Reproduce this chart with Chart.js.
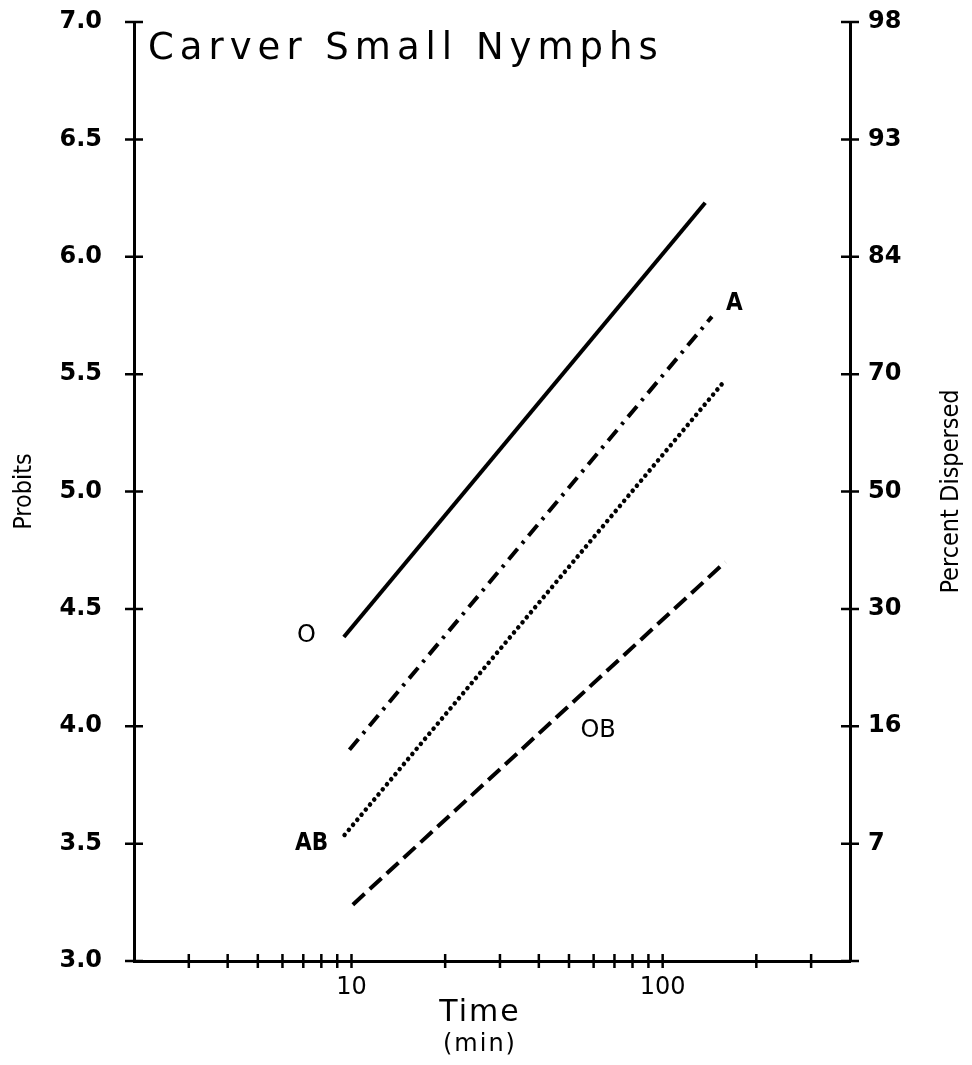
<!DOCTYPE html>
<html lang="en">
  <head>
    <meta charset="UTF-8" />
    <title>Carver Small Nymphs</title>
    <script src="https://cdn.jsdelivr.net/npm/chart.js"></script>
    <style>
      body {
        margin: 0;
        background: #fff;
      }
      canvas {
        display: block;
      }
    </style>
  </head>
  <body>
    <canvas id="probitChart" width="972" height="1065"></canvas>

    <script>
      // fitted probit lines, end points (time in min, probit)
      const timeO = [9.45, 137];
      const probitO = [4.38, 6.23];
      const timeA = [9.85, 144];
      const probitA = [3.9, 5.745];
      const timeAB = [9.5, 159];
      const probitAB = [3.537, 5.475];
      const timeOB = [10.1, 159];
      const probitOB = [3.24, 4.7];

      // treatment labels beside the lines
      const lineNames = ["O", "A", "AB", "OB"];
      const nameTime = [7.17, 170, 7.44, 62];
      const nameProbit = [4.384, 5.8, 3.5, 3.98];

      // axis ticks
      const timeTicks = [3, 4, 5, 6, 7, 8, 9, 10, 20, 30, 40, 50, 60, 70, 80, 90, 100, 200, 300];
      const timeLabels = [10, 100];
      const probitTicks = [3.0, 3.5, 4.0, 4.5, 5.0, 5.5, 6.0, 6.5, 7.0];
      const percentLabels = ["", "7", "16", "30", "50", "70", "84", "93", "98"];

      const ROUND = "'DejaVu Sans', sans-serif";
      const NARROW = "'Liberation Sans Narrow', 'DejaVu Sans Condensed', sans-serif";

      const pts = (xs, ys) => xs.map((x, i) => ({ x: x, y: ys[i] }));

      // keep the plot box where it is, labels may overhang
      const noOverhang = (scale) => {
        scale.paddingTop = 0;
        scale.paddingBottom = 0;
        scale.paddingLeft = 0;
        scale.paddingRight = 0;
      };

      // "+" shaped tick marks that cross each axis line
      const crossTicks = {
        id: "crossTicks",
        afterDraw(chart) {
          const ctx = chart.ctx;
          const { x, y, y2 } = chart.scales;
          ctx.save();
          ctx.strokeStyle = "#000";
          ctx.lineWidth = 2.5;
          ctx.beginPath();
          x.ticks.forEach((t) => {
            const px = x.getPixelForValue(t.value);
            ctx.moveTo(px, x.top - 7);
            ctx.lineTo(px, x.top + 7);
          });
          y.ticks.forEach((t) => {
            const py = y.getPixelForValue(t.value);
            ctx.moveTo(y.right - 9, py);
            ctx.lineTo(y.right + 9, py);
          });
          y2.ticks.forEach((t) => {
            const py = y2.getPixelForValue(t.value);
            ctx.moveTo(y2.left - 9, py);
            ctx.lineTo(y2.left + 9, py);
          });
          ctx.stroke();
          ctx.restore();
        },
      };

      // title, axis titles and line names
      const annotations = {
        id: "annotations",
        afterDraw(chart) {
          const ctx = chart.ctx;
          const area = chart.chartArea;
          const { x, y } = chart.scales;
          ctx.save();
          ctx.fillStyle = "#000";

          ctx.font = "37px " + ROUND;
          ctx.letterSpacing = "6px";
          ctx.textAlign = "left";
          ctx.textBaseline = "alphabetic";
          ctx.fillText("Carver Small Nymphs", area.left + 14, area.top + 37);

          ctx.textAlign = "center";
          ctx.textBaseline = "middle";
          const midX = x.getPixelForValue(30) - 20;
          ctx.letterSpacing = "2px";
          ctx.font = "30px " + ROUND;
          ctx.fillText("Time", midX, 1013);
          ctx.font = "24px " + ROUND;
          ctx.fillText("(min)", midX, 1045);
          ctx.letterSpacing = "0px";

          ctx.font = "25px " + NARROW;
          const midY = (area.top + area.bottom) / 2;
          ctx.save();
          ctx.translate(24, midY);
          ctx.rotate(-Math.PI / 2);
          ctx.fillText("Probits", 0, 0);
          ctx.restore();
          ctx.save();
          ctx.translate(951, midY);
          ctx.rotate(-Math.PI / 2);
          ctx.fillText("Percent Dispersed", 0, 0);
          ctx.restore();

          lineNames.forEach((name, i) => {
            ctx.font =
              name === "A" || name === "AB" ? "bold 24px " + NARROW : "24px " + ROUND;
            ctx.fillText(name, x.getPixelForValue(nameTime[i]), y.getPixelForValue(nameProbit[i]));
          });
          ctx.restore();
        },
      };

      const tickFont = { family: ROUND, size: 24, weight: "bold" };

      new Chart(document.getElementById("probitChart"), {
        type: "line",
        data: {
          datasets: [
            {
              label: "O",
              data: pts(timeO, probitO),
              borderWidth: 4,
            },
            {
              label: "A",
              data: pts(timeA, probitA),
              borderWidth: 4,
              borderDash: [14, 7, 3, 7],
            },
            {
              label: "AB",
              data: pts(timeAB, probitAB),
              borderWidth: 4.5,
              borderCapStyle: "round",
              borderDash: [0.1, 6.5],
            },
            {
              label: "OB",
              data: pts(timeOB, probitOB),
              borderWidth: 4,
              borderDash: [16, 7],
            },
          ],
        },
        options: {
          responsive: false,
          animation: false,
          devicePixelRatio: 1,
          layout: { padding: { top: 22, left: 0, right: 0, bottom: 0 } },
          elements: {
            line: { borderColor: "#000", tension: 0 },
            point: { radius: 0 },
          },
          plugins: {
            legend: { display: false },
            tooltip: { enabled: false },
          },
          scales: {
            x: {
              type: "logarithmic",
              min: 2,
              max: 400,
              afterBuildTicks: (scale) => {
                scale.ticks = timeTicks.map((v) => ({ value: v }));
              },
              afterFit: (scale) => {
                scale.height = 104;
                noOverhang(scale);
              },
              grid: { display: false, drawTicks: false },
              border: { display: true, color: "#000", width: 3 },
              ticks: {
                autoSkip: false,
                maxRotation: 0,
                padding: 12,
                color: "#000",
                font: { family: ROUND, size: 24 },
                callback: (v) => (timeLabels.includes(v) ? String(v) : ""),
              },
            },
            y: {
              position: "left",
              min: 3,
              max: 7,
              afterBuildTicks: (scale) => {
                scale.ticks = probitTicks.map((v) => ({ value: v }));
              },
              afterFit: (scale) => {
                scale.width = 134;
                noOverhang(scale);
              },
              grid: { display: false, drawTicks: false },
              border: { display: true, color: "#000", width: 3 },
              ticks: {
                padding: 32,
                color: "#000",
                font: tickFont,
                callback: (v) => v.toFixed(1),
              },
            },
            y2: {
              position: "right",
              min: 3,
              max: 7,
              afterBuildTicks: (scale) => {
                scale.ticks = probitTicks.map((v) => ({ value: v }));
              },
              afterFit: (scale) => {
                scale.width = 122;
                noOverhang(scale);
              },
              grid: { display: false, drawTicks: false },
              border: { display: true, color: "#000", width: 3 },
              ticks: {
                padding: 18,
                color: "#000",
                font: tickFont,
                callback: (v, i) => percentLabels[i],
              },
            },
          },
        },
        plugins: [crossTicks, annotations],
      });
    </script>
  </body>
</html>
